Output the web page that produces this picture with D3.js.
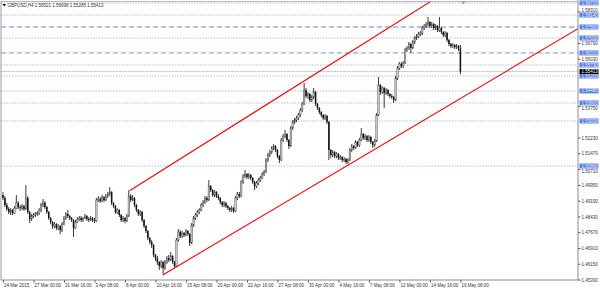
<!DOCTYPE html>
<html><head><meta charset="utf-8">
<script src="https://cdn.jsdelivr.net/npm/d3@7"></script>
<style>html,body{margin:0;padding:0;background:#fff;}svg{display:block;}</style>
</head><body><svg id="c" width="600" height="291"></svg>
<script>
// GBPUSD H4, 24 Mar 2015 08:00 .. 19 May 2015 08:00 (bar index 0..240)
const barOpen = [1.4946,1.4932,1.4898,1.4879,1.4864,1.4874,1.4859,1.4883,1.4908,1.4888,
1.4883,1.4893,1.4879,1.4932,1.4864,1.4830,1.4845,1.4850,1.4855,1.4859,
1.4874,1.4898,1.4908,1.4888,1.4864,1.4835,1.4816,1.4797,1.4806,1.4787,
1.4797,1.4777,1.4806,1.4835,1.4855,1.4845,1.4835,1.4826,1.4787,1.4816,
1.4830,1.4835,1.4826,1.4835,1.4845,1.4830,1.4826,1.4835,1.4826,1.4821,
1.4922,1.4927,1.4917,1.4936,1.4922,1.4941,1.4951,1.4961,1.4908,1.4893,
1.4864,1.4874,1.4850,1.4826,1.4835,1.4821,1.4845,1.4941,1.4922,1.4932,
1.4898,1.4874,1.4855,1.4864,1.4826,1.4797,1.4773,1.4739,1.4720,1.4705,
1.4657,1.4642,1.4623,1.4604,1.4623,1.4594,1.4623,1.4642,1.4633,1.4652,
1.4623,1.4604,1.4729,1.4768,1.4748,1.4763,1.4753,1.4773,1.4758,1.4715,
1.4801,1.4835,1.4850,1.4864,1.4874,1.4898,1.4912,1.4932,1.4922,1.4989,
1.4970,1.4946,1.4961,1.4941,1.4932,1.4912,1.4898,1.4908,1.4893,1.4883,
1.4874,1.4883,1.4869,1.4932,1.4951,1.4941,1.5009,1.5038,1.5047,1.5033,
1.5042,1.5028,1.5009,1.4989,1.5004,1.5018,1.5028,1.5047,1.5057,1.5115,
1.5139,1.5153,1.5173,1.5182,1.5163,1.5134,1.5115,1.5211,1.5230,1.5240,
1.5211,1.5182,1.5269,1.5298,1.5308,1.5317,1.5332,1.5356,1.5385,1.5452,
1.5423,1.5433,1.5404,1.5418,1.5443,1.5385,1.5365,1.5346,1.5332,1.5317,
1.5327,1.5298,1.5163,1.5139,1.5153,1.5134,1.5144,1.5124,1.5129,1.5115,
1.5120,1.5105,1.5115,1.5163,1.5182,1.5173,1.5202,1.5187,1.5211,1.5240,
1.5221,1.5230,1.5211,1.5226,1.5202,1.5187,1.5206,1.5332,1.5476,1.5443,
1.5462,1.5438,1.5452,1.5433,1.5423,1.5418,1.5404,1.5510,1.5558,1.5578,
1.5568,1.5582,1.5645,1.5655,1.5674,1.5655,1.5684,1.5703,1.5712,1.5722,
1.5727,1.5751,1.5761,1.5770,1.5780,1.5761,1.5770,1.5751,1.5761,1.5741,
1.5751,1.5732,1.5717,1.5727,1.5693,1.5674,1.5664,1.5669,1.5659,1.5664,
1.56521];
const barHigh = [1.4960,1.4941,1.4908,1.4888,1.4883,1.4879,1.4893,1.4946,1.4917,1.4898,
1.4903,1.4898,1.4994,1.4941,1.4869,1.4855,1.4859,1.4864,1.4869,1.4883,
1.4908,1.4927,1.4917,1.4893,1.4869,1.4840,1.4821,1.4816,1.4811,1.4806,
1.4801,1.4816,1.4845,1.4864,1.4874,1.4850,1.4840,1.4830,1.4826,1.4840,
1.4845,1.4845,1.4840,1.4855,1.4850,1.4840,1.4845,1.4840,1.4835,1.4932,
1.4941,1.4936,1.4946,1.4941,1.4951,1.4961,1.4985,1.4965,1.4912,1.4898,
1.4883,1.4879,1.4855,1.4845,1.4840,1.4855,1.4970,1.4951,1.4946,1.4936,
1.4903,1.4879,1.4874,1.4869,1.4830,1.4801,1.4777,1.4744,1.4729,1.4710,
1.4662,1.4652,1.4628,1.4633,1.4628,1.4633,1.4652,1.4657,1.4672,1.4657,
1.4628,1.4739,1.4782,1.4777,1.4773,1.4768,1.4782,1.4777,1.4763,1.4811,
1.4845,1.4859,1.4874,1.4883,1.4908,1.4922,1.4941,1.4941,1.5018,1.4994,
1.4975,1.4970,1.4965,1.4951,1.4936,1.4917,1.4917,1.4912,1.4898,1.4888,
1.4893,1.4888,1.4941,1.4961,1.4961,1.5018,1.5047,1.5067,1.5052,1.5052,
1.5047,1.5033,1.5014,1.5014,1.5028,1.5038,1.5057,1.5067,1.5124,1.5149,
1.5163,1.5182,1.5192,1.5187,1.5168,1.5139,1.5221,1.5240,1.5260,1.5245,
1.5216,1.5279,1.5308,1.5317,1.5327,1.5341,1.5365,1.5394,1.5486,1.5462,
1.5443,1.5438,1.5428,1.5462,1.5447,1.5390,1.5370,1.5351,1.5336,1.5336,
1.5332,1.5303,1.5168,1.5163,1.5158,1.5153,1.5149,1.5139,1.5134,1.5129,
1.5124,1.5124,1.5173,1.5192,1.5187,1.5211,1.5206,1.5221,1.5269,1.5245,
1.5240,1.5235,1.5235,1.5230,1.5206,1.5216,1.5341,1.5515,1.5481,1.5471,
1.5467,1.5462,1.5457,1.5438,1.5433,1.5423,1.5520,1.5568,1.5587,1.5587,
1.5592,1.5655,1.5664,1.5684,1.5679,1.5693,1.5712,1.5722,1.5732,1.5736,
1.5761,1.5770,1.5780,1.5804,1.5785,1.5780,1.5775,1.5770,1.5765,1.5804,
1.5756,1.5736,1.5736,1.5732,1.5698,1.5679,1.5679,1.5674,1.5674,1.5669,
1.56698];
const barLow = [1.4922,1.4888,1.4869,1.4855,1.4850,1.4850,1.4855,1.4879,1.4879,1.4869,
1.4874,1.4869,1.4874,1.4855,1.4811,1.4821,1.4835,1.4840,1.4845,1.4850,
1.4864,1.4888,1.4879,1.4855,1.4826,1.4806,1.4782,1.4787,1.4777,1.4777,
1.4758,1.4768,1.4801,1.4826,1.4835,1.4826,1.4816,1.4744,1.4782,1.4811,
1.4821,1.4816,1.4816,1.4830,1.4821,1.4816,1.4821,1.4816,1.4811,1.4816,
1.4912,1.4908,1.4912,1.4912,1.4917,1.4932,1.4941,1.4898,1.4883,1.4855,
1.4855,1.4840,1.4816,1.4816,1.4811,1.4816,1.4840,1.4912,1.4917,1.4888,
1.4864,1.4845,1.4845,1.4816,1.4787,1.4763,1.4729,1.4710,1.4691,1.4647,
1.4628,1.4609,1.4585,1.4594,1.4566,1.4585,1.4614,1.4623,1.4628,1.4614,
1.4594,1.4599,1.4720,1.4739,1.4739,1.4744,1.4748,1.4748,1.4700,1.4710,
1.4792,1.4826,1.4840,1.4855,1.4869,1.4888,1.4903,1.4912,1.4917,1.4961,
1.4936,1.4936,1.4932,1.4922,1.4903,1.4888,1.4888,1.4883,1.4874,1.4864,
1.4864,1.4859,1.4864,1.4922,1.4932,1.4936,1.5000,1.5028,1.5023,1.5023,
1.5018,1.5000,1.4970,1.4980,1.4994,1.5009,1.5023,1.5038,1.5052,1.5105,
1.5129,1.5144,1.5163,1.5153,1.5124,1.5100,1.5110,1.5202,1.5221,1.5202,
1.5168,1.5178,1.5260,1.5288,1.5298,1.5308,1.5322,1.5346,1.5380,1.5414,
1.5409,1.5394,1.5394,1.5409,1.5375,1.5356,1.5336,1.5322,1.5308,1.5308,
1.5288,1.5115,1.5124,1.5129,1.5124,1.5124,1.5115,1.5115,1.5105,1.5105,
1.5096,1.5096,1.5110,1.5153,1.5163,1.5168,1.5178,1.5178,1.5206,1.5211,
1.5211,1.5202,1.5202,1.5192,1.5173,1.5178,1.5202,1.5327,1.5428,1.5433,
1.5365,1.5428,1.5423,1.5414,1.5409,1.5390,1.5399,1.5500,1.5549,1.5558,
1.5558,1.5578,1.5636,1.5645,1.5631,1.5650,1.5674,1.5693,1.5703,1.5712,
1.5717,1.5741,1.5751,1.5761,1.5751,1.5751,1.5741,1.5741,1.5732,1.5732,
1.5722,1.5707,1.5707,1.5684,1.5664,1.5655,1.5655,1.5650,1.5650,1.5640,
1.55285];
const barClose = [1.4932,1.4898,1.4879,1.4864,1.4874,1.4859,1.4883,1.4908,1.4888,1.4883,
1.4893,1.4879,1.4932,1.4864,1.4830,1.4845,1.4850,1.4855,1.4859,1.4874,
1.4898,1.4908,1.4888,1.4864,1.4835,1.4816,1.4797,1.4806,1.4787,1.4797,
1.4777,1.4806,1.4835,1.4855,1.4845,1.4835,1.4826,1.4787,1.4816,1.4830,
1.4835,1.4826,1.4835,1.4845,1.4830,1.4826,1.4835,1.4826,1.4821,1.4922,
1.4927,1.4917,1.4936,1.4922,1.4941,1.4951,1.4961,1.4908,1.4893,1.4864,
1.4874,1.4850,1.4826,1.4835,1.4821,1.4845,1.4941,1.4922,1.4932,1.4898,
1.4874,1.4855,1.4864,1.4826,1.4797,1.4773,1.4739,1.4720,1.4705,1.4657,
1.4642,1.4623,1.4604,1.4623,1.4594,1.4623,1.4642,1.4633,1.4652,1.4623,
1.4604,1.4729,1.4768,1.4748,1.4763,1.4753,1.4773,1.4758,1.4715,1.4801,
1.4835,1.4850,1.4864,1.4874,1.4898,1.4912,1.4932,1.4922,1.4989,1.4970,
1.4946,1.4961,1.4941,1.4932,1.4912,1.4898,1.4908,1.4893,1.4883,1.4874,
1.4883,1.4869,1.4932,1.4951,1.4941,1.5009,1.5038,1.5047,1.5033,1.5042,
1.5028,1.5009,1.4989,1.5004,1.5018,1.5028,1.5047,1.5057,1.5115,1.5139,
1.5153,1.5173,1.5182,1.5163,1.5134,1.5115,1.5211,1.5230,1.5240,1.5211,
1.5182,1.5269,1.5298,1.5308,1.5317,1.5332,1.5356,1.5385,1.5452,1.5423,
1.5433,1.5404,1.5418,1.5443,1.5385,1.5365,1.5346,1.5332,1.5317,1.5327,
1.5298,1.5163,1.5139,1.5153,1.5134,1.5144,1.5124,1.5129,1.5115,1.5120,
1.5105,1.5115,1.5163,1.5182,1.5173,1.5202,1.5187,1.5211,1.5240,1.5221,
1.5230,1.5211,1.5226,1.5202,1.5187,1.5206,1.5332,1.5476,1.5443,1.5462,
1.5438,1.5452,1.5433,1.5423,1.5418,1.5404,1.5510,1.5558,1.5578,1.5568,
1.5582,1.5645,1.5655,1.5674,1.5655,1.5684,1.5703,1.5712,1.5722,1.5727,
1.5751,1.5761,1.5770,1.5780,1.5761,1.5770,1.5751,1.5761,1.5741,1.5751,
1.5732,1.5717,1.5727,1.5693,1.5674,1.5664,1.5669,1.5659,1.5664,1.5652,
1.55413];

const timeTickIndex = [0,16,32,48,64,80,96,112,128,144,160,176,192,208,224,240];
const timeTickLabels = ["24 Mar 2015","27 Mar 00:00","31 Mar 16:00","3 Apr 08:00","8 Apr 00:00",
  "10 Apr 16:00","15 Apr 08:00","20 Apr 00:00","22 Apr 16:00","27 Apr 08:00","30 Apr 00:00",
  "4 May 16:00","7 May 08:00","12 May 00:00","14 May 16:00","19 May 08:00"];
const priceTicks = [1.45390,1.46150,1.46910,1.47670,1.48430,1.49190,1.49950,1.50710,1.51470,
  1.52230,1.52990,1.53750,1.54510,1.55270,1.56030,1.56790,1.57550,1.58310];
const dottedLevels = [1.58720,1.58140,1.57030,1.55730,1.55200,1.54480,1.53900,1.53030,1.50860];
const dashedLevels = [1.57560,1.56310];
const bidPrice = 1.55413;
const titleText = "GBPUSD,H4  1.56521 1.56698 1.55285 1.55413";
// trend lines: [bar index, price] anchor pairs (rays to the right)
const upperTrend = [[66.6,1.4968],[167.2,1.5549]];
const lowerTrend = [[83.8,1.4561],[260.8,1.5525]];

const svg = d3.select("#c");
const P = {left:1, right:578, top:1.5, bottom:280};
const x = d3.scaleLinear().domain([-1.05, 301.7]).range([P.left, P.right]);
const y = d3.scaleLinear().domain([1.4539, 1.58862]).range([279.5, 0]);
const FONT = "'Liberation Sans', Arial, sans-serif";
const FS = 4.5;

svg.append("rect").attr("width",600).attr("height",291).attr("fill","#fff");
svg.append("clipPath").attr("id","clip").append("rect")
  .attr("x",P.left).attr("y",P.top).attr("width",P.right-P.left).attr("height",P.bottom-P.top);
const plot = svg.append("g").attr("clip-path","url(#clip)");

// horizontal levels
plot.selectAll("line.dot").data(dottedLevels).join("line")
  .attr("x1",P.left).attr("x2",P.right).attr("y1",d=>y(d)).attr("y2",d=>y(d))
  .attr("stroke","#8ea4ea").attr("stroke-width",0.9).attr("stroke-dasharray","1.2,1.6");
plot.selectAll("line.dash").data(dashedLevels).join("line")
  .attr("x1",P.left).attr("x2",P.right).attr("y1",d=>y(d)).attr("y2",d=>y(d))
  .attr("stroke","#b3c2f0").attr("stroke-width",1.8).attr("stroke-dasharray","5,3");
plot.append("line").attr("x1",P.left).attr("x2",P.right).attr("y1",y(bidPrice)).attr("y2",y(bidPrice))
  .attr("stroke","#c8c8c8").attr("stroke-width",0.9);

// candles
const idx = d3.range(barClose.length);
const cg = plot.append("g");
cg.selectAll("line.w").data(idx).join("line")
  .attr("x1",i=>x(i)).attr("x2",i=>x(i)).attr("y1",i=>y(barHigh[i])).attr("y2",i=>y(barLow[i]))
  .attr("stroke","#222").attr("stroke-width",0.9);
cg.selectAll("rect.b").data(idx).join("rect")
  .attr("x",i=>x(i)-0.75).attr("width",1.5)
  .attr("y",i=>y(Math.max(barOpen[i],barClose[i])))
  .attr("height",i=>Math.max(0.6, Math.abs(y(barOpen[i])-y(barClose[i]))))
  .attr("fill",i=>barClose[i]>=barOpen[i]?"#c8c8c8":"#111")
  .attr("stroke",i=>barClose[i]>=barOpen[i]?"#444":"none").attr("stroke-width",0.4);

// trend rays
function ray(pts){
  const [a,b] = pts; const s=(b[1]-a[1])/(b[0]-a[0]);
  const xe = x.domain()[1];
  return [[a[0],a[1]],[xe, a[1]+s*(xe-a[0])]];
}
[upperTrend, lowerTrend].forEach(t=>{
  const r = ray(t);
  plot.append("line").attr("x1",x(r[0][0])).attr("y1",y(r[0][1]))
    .attr("x2",x(r[1][0])).attr("y2",y(r[1][1]))
    .attr("stroke","#ff0000").attr("stroke-width",1.1);
});

// frame
svg.append("line").attr("x1",P.left).attr("x2",P.right).attr("y1",P.top).attr("y2",P.top).attr("stroke","#a8a8a8").attr("stroke-width",0.8);
svg.append("line").attr("x1",P.left).attr("x2",P.left).attr("y1",P.top).attr("y2",P.bottom).attr("stroke","#808080").attr("stroke-width",0.8);

// right price axis (tick labels fully hidden behind level labels are skipped)
const levels = dottedLevels.concat(dashedLevels);
const allLabels = levels.concat([bidPrice]);
const shownTicks = priceTicks.filter(t => !allLabels.some(l => Math.abs(y(l)-y(t)) < 2.6));
const ya = d3.axisRight(y).tickValues(shownTicks).tickSize(2.5).tickFormat(d3.format(".5f"));
const gy = svg.append("g").attr("transform",`translate(${P.right},0)`).call(ya);
gy.select(".domain").remove();
gy.selectAll("line").attr("stroke","#555");
gy.selectAll("text").attr("x",3.5).attr("dy","0.35em").attr("fill","#333")
  .attr("y", t => {
    // nudge a tick label up/down so it does not run into a neighbouring level label
    let off = 0;
    allLabels.forEach(l => { const d = y(l)-y(t); if (d >= 2.6 && d < 5.2) off = -(5.2-d); if (d <= -2.6 && d > -5.2) off = (5.2+d); });
    return off;
  })
  .style("font-family",FONT).style("font-size",FS+"px");
svg.append("line").attr("x1",P.right).attr("x2",P.right).attr("y1",0).attr("y2",P.bottom)
  .attr("stroke","#808080").attr("stroke-width",0.9);

// bottom time axis
const xa = d3.axisBottom(x).tickValues(timeTickIndex).tickSize(2.5)
  .tickFormat((d,i)=>timeTickLabels[i]);
const gx = svg.append("g").attr("transform",`translate(0,${P.bottom})`).call(xa);
gx.select(".domain").remove();
gx.selectAll("line").attr("stroke","#555");
gx.selectAll("text").attr("text-anchor","start").attr("x",0.6).attr("y",4.2).attr("dy","0.71em")
  .attr("fill","#333").style("font-family",FONT).style("font-size",FS+"px");
svg.append("line").attr("x1",P.left).attr("x2",P.right).attr("y1",P.bottom).attr("y2",P.bottom)
  .attr("stroke","#808080").attr("stroke-width",0.9);

// level labels on price axis
const lg = svg.append("g");
lg.selectAll("rect").data(levels).join("rect")
  .attr("x",P.right+1.5).attr("y",d=>y(d)-2.5).attr("width",19).attr("height",5)
  .attr("fill","#5a80e4");
lg.selectAll("text").data(levels).join("text")
  .attr("x",P.right+3.5).attr("y",d=>y(d)).attr("dy","0.35em").text(d=>d3.format(".5f")(d))
  .attr("fill","#e8eeff").style("font-family",FONT).style("font-size",FS+"px");
// bid label
svg.append("rect").attr("x",P.right+1.5).attr("y",y(bidPrice)-2.5).attr("width",19).attr("height",5).attr("fill","#000");
svg.append("text").attr("x",P.right+3.5).attr("y",y(bidPrice)).attr("dy","0.35em").text(d3.format(".5f")(bidPrice))
  .attr("fill","#fff").style("font-family",FONT).style("font-size",FS+"px");

// title
svg.append("path").attr("d","M2.5,4 L6,4 L4.25,6.5 Z").attr("fill","#000");
svg.append("text").attr("x",7.5).attr("y",6.6).text(titleText)
  .attr("fill","#333").style("font-family",FONT).style("font-size",FS+"px");

// chart shift marker
svg.append("path").attr("d",`M${x(240)+1},1.5 L${x(240)+5},1.5 L${x(240)+3},4.5 Z`).attr("fill","#999");
</script></body></html>
